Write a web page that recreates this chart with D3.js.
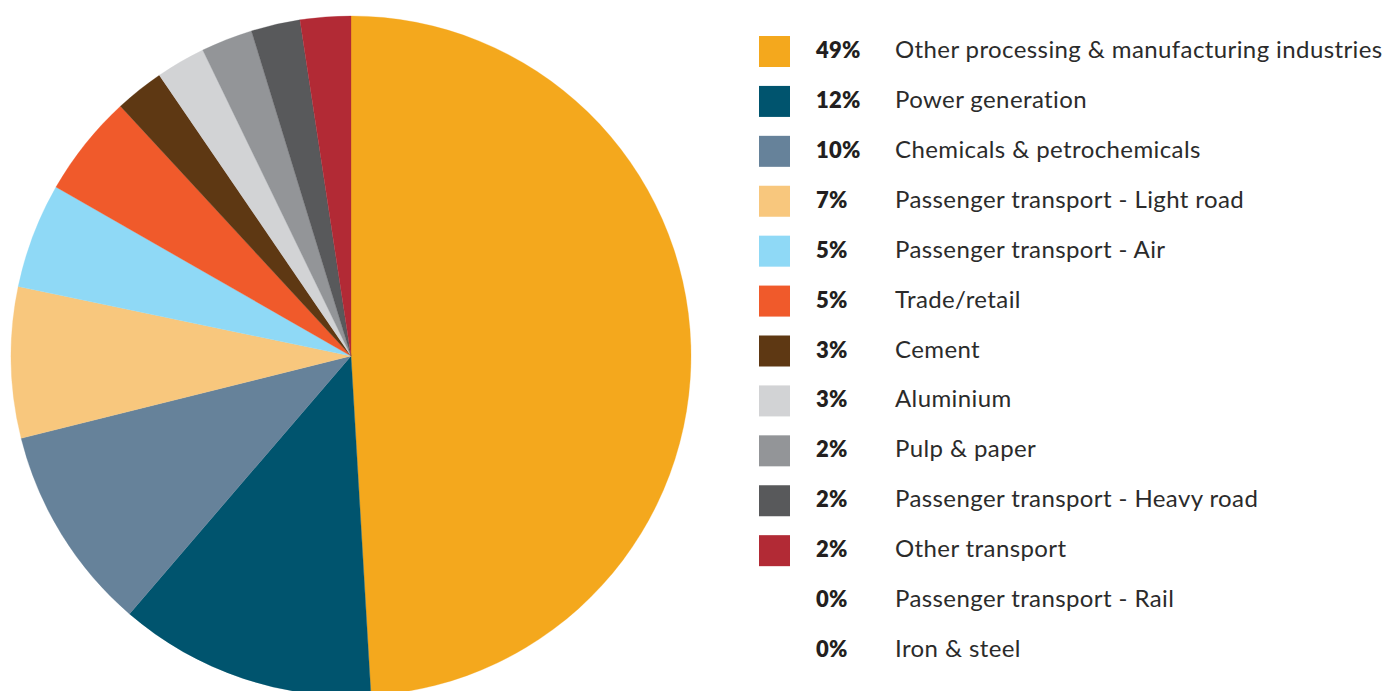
<!DOCTYPE html>
<html>
<head>
<meta charset="utf-8">
<script src="https://cdn.jsdelivr.net/npm/d3@7"></script>
<style>
  html, body { margin: 0; padding: 0; background: #fff; }
  svg { display: block; }
</style>
</head>
<body>
<svg id="chart" width="1388" height="691"></svg>
<script>
// Categories (legend order = slice order, clockwise from 12 o'clock)
const categories = [
  "Other processing & manufacturing industries",
  "Power generation",
  "Chemicals & petrochemicals",
  "Passenger transport - Light road",
  "Passenger transport - Air",
  "Trade/retail",
  "Cement",
  "Aluminium",
  "Pulp & paper",
  "Passenger transport - Heavy road",
  "Other transport",
  "Passenger transport - Rail",
  "Iron & steel"
];
// Slice shares (%)
const values = [49.06, 12.23, 9.81, 7.17, 5.0, 4.86, 2.33, 2.35, 2.45, 2.33, 2.4, 0, 0];
// Percent labels as printed in the legend
const pctLabels = ["49%", "12%", "10%", "7%", "5%", "5%", "3%", "3%", "2%", "2%", "2%", "0%", "0%"];
const colors = [
  "#F4A81D", "#00546E", "#66829A", "#F8C77D", "#8FD9F6", "#F05A2B",
  "#5E3813", "#D2D3D5", "#939598", "#58595B", "#B22A35", "none", "none"
];

const svg = d3.select("#chart");
const cx = 351, cy = 356, radius = 340;

const data = categories.map((c, i) => ({ name: c, value: values[i], pct: pctLabels[i], color: colors[i] }));

const pie = d3.pie().sort(null).value(d => d.value).startAngle(0).endAngle(2 * Math.PI);
const arc = d3.arc().innerRadius(0).outerRadius(radius);

const g = svg.append("g").attr("transform", `translate(${cx},${cy})`);
g.selectAll("path")
  .data(pie(data).filter(d => d.data.value > 0))
  .join("path")
  .attr("d", arc)
  .attr("fill", d => d.data.color)
  .attr("stroke", d => d.data.color)
  .attr("stroke-width", 0.3);

// Legend
const rowY = d3.scalePoint().domain(d3.range(categories.length)).range([58, 657]);
const legend = svg.append("g");
const rows = legend.selectAll("g.row").data(data).join("g").attr("class", "row")
  .attr("transform", (d, i) => `translate(0,${rowY(i)})`);

rows.filter(d => d.color !== "none").append("rect")
  .attr("x", 759).attr("y", -22).attr("width", 31).attr("height", 31)
  .attr("fill", d => d.color);

const font = "Lato, 'Open Sans', sans-serif";
rows.append("text")
  .attr("x", 816).attr("y", 0)
  .attr("font-family", font).attr("font-weight", 800).attr("font-size", 22)
  .attr("letter-spacing", 0.3)
  .attr("fill", "#231F20")
  .text(d => d.pct);

rows.append("text")
  .attr("x", 895).attr("y", 0)
  .attr("font-family", font).attr("font-weight", 400).attr("font-size", 24)
  .attr("letter-spacing", 0.4)
  .attr("fill", "#2b2b2b")
  .text(d => d.name);
</script>
</body>
</html>
